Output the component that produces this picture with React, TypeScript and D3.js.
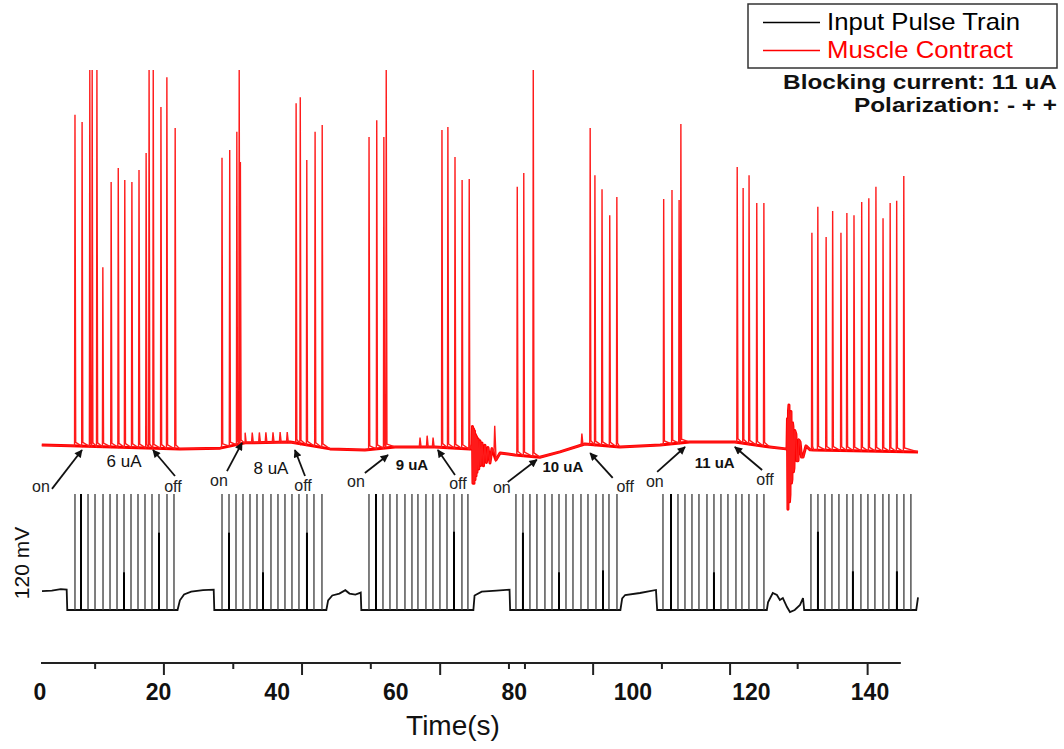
import React from "react";
import * as d3 from "d3";

// ---------- axis ----------
const X_LABELS = [0, 20, 40, 60, 80, 100, 120, 140];
const AXIS_TICKS_MAJOR = [20.9, 44.2, 67.5, 93.3, 116.4, 139.6];
const AXIS_TICKS_MINOR = [9.3, 32.6, 55.8, 79.1, 81.8, 104.9, 127.8];
const AXIS_START = 0.17;
const AXIS_END = 145.2;

// ---------- muscle contraction (red), [time s, amplitude a.u.] ----------
const RED_SPIKES: [number, number][] = [
  [5.9, 88.1], [7.1, 86.2], [8.4, 100], [8.8, 100], [9.6, 100], [10.6, 47.7], [12.0, 70.3], [13.2, 74.0],
  [14.3, 70.8], [15.5, 70.3], [16.7, 73.5], [17.9, 78.0], [18.4, 100], [19.1, 100], [20.4, 90.2], [21.4, 98.1], [22.8, 84.6],
  [30.7, 76.7], [32.0, 78.8], [33.2, 83.6], [33.6, 100], [33.8, 75.6],
  [43.2, 91.2], [43.9, 92.8], [45.0, 76.1], [46.4, 83.6], [47.6, 85.4],
  [55.5, 82.2], [56.8, 86.7], [58.0, 82.2], [58.4, 100],
  [67.8, 84.1], [68.8, 84.9], [70.0, 76.9], [71.2, 70.8], [72.4, 71.1],
  [80.5, 69.0], [81.6, 72.7], [83.2, 100],
  [92.8, 84.6], [93.6, 72.1], [94.8, 68.4], [96.1, 61.5], [97.3, 66.3],
  [105.2, 65.8], [106.6, 68.2], [107.8, 65.5], [108.1, 85.7],
  [117.6, 74.3], [118.6, 68.7], [119.6, 72.1], [120.9, 64.7], [122.1, 64.7],
  [130.2, 56.8], [131.2, 63.7], [132.6, 55.7], [133.7, 62.6], [135.1, 56.8], [136.1, 62.1], [137.3, 61.5],
  [138.6, 65.0], [139.8, 66.0], [141.0, 69.0], [142.2, 60.7], [143.4, 64.7], [144.5, 65.3], [145.7, 71.9],
];
const RED_BASELINE: [number, number][] = [
  [0.3, 0.5], [5.1, 0.3], [23.6, -0.5], [30.4, -0.3], [34.6, 1.1], [42.2, 1.3], [48.9, -0.5], [54.8, -0.8],
  [59.9, 0], [66.6, 0], [72.5, -0.5], [80.1, -2.1], [84.3, -2.7], [87.7, -1.3], [91.9, 0.8], [97.8, 0],
  [104.6, 0.5], [109.6, 1.3], [117.2, 1.3], [123.1, 0], [125.8, -0.5], [130.5, -0.8], [148.1, -1.3],
];
// offsets from the baseline
const RED_ARTIFACT_1: [number, number][] = [
  [72.86, 0], [72.95, 6], [73.03, -9], [73.12, 5.5], [73.2, -9], [73.28, 5], [73.37, -8], [73.45, 4], [73.54, -7],
  [73.62, 3.5], [73.7, -6], [73.87, 3], [74.0, -5], [74.2, 2.5], [74.35, -4], [74.55, 2], [74.8, -4],
  [75.05, 1.5], [75.3, -3], [75.56, 1], [75.9, -3], [76.23, 0.8], [76.9, -2], [77.6, 0],
];
const RED_ARTIFACT_2: [number, number][] = [
  [126.0, 0], [126.08, 8], [126.16, -16], [126.25, 10], [126.33, 11.7], [126.42, -14], [126.5, -12], [126.58, 9],
  [126.67, 10], [126.75, -9], [126.83, -8], [126.92, 7], [127.0, 6], [127.08, -6], [127.17, -5], [127.3, 5],
  [127.5, 4], [127.65, -3], [127.85, -3], [128.0, 2.5], [128.2, 2], [128.45, -2], [128.7, -2], [129.2, 1], [129.9, 0],
];
const RED_BUMPS: [number, number][] = [
  [34.6, 2.7], [35.8, 2.7], [37.0, 2.7], [38.1, 2.7], [39.3, 2.7], [40.5, 2.7], [41.7, 2.7],
  [64.1, 2.5], [65.3, 3], [66.3, 2.5], [76.7, 7], [91.4, 3],
];

// ---------- input pulse train (black), mV ----------
const PULSE_TIMES = [
  5.90, 6.92, 8.10, 9.28, 10.63, 11.81, 12.99, 14.17, 15.35, 16.53, 17.71, 18.89, 20.07, 21.42, 22.60,
  30.70, 31.88, 33.06, 34.24, 35.42, 36.60, 37.61, 38.96, 40.14, 41.32, 42.50, 43.68, 45.03, 46.21, 47.56,
  55.49, 56.67, 57.85, 59.03, 60.21, 61.56, 62.74, 63.75, 65.10, 66.28, 67.46, 68.65, 69.83, 71.17, 72.18,
  80.28, 81.46, 82.64, 83.82, 85.17, 86.36, 87.54, 88.72, 89.90, 91.25, 92.43, 93.78, 94.96, 95.97, 97.32,
  105.08, 106.43, 107.61, 108.79, 109.97, 111.15, 112.50, 113.68, 114.86, 116.04, 117.39, 118.40, 119.58, 120.93, 122.11,
  130.04, 131.22, 132.40, 133.58, 134.76, 136.11, 137.12, 138.47, 139.65, 140.83, 142.18, 143.19, 144.54, 145.72, 146.90,
];
const PULSE_PEAK = 120;
const PULSE_MARKS: [number, number][] = [
  [6.92, 120], [14.17, 39], [20.07, 80], [31.88, 80], [37.61, 39], [45.03, 80], [56.67, 120], [69.83, 81],
  [81.46, 80], [87.54, 39], [94.96, 41], [106.43, 120], [113.68, 39], [131.22, 81], [137.12, 40], [144.54, 40],
];
const BLACK_BASELINE: [number, number][] = [
  [0.34, 19.5], [2, 20], [3.5, 21.5], [4.5, 21], [4.6, 0], [23.2, 0], [23.6, 10], [24.3, 16], [25.5, 19],
  [27.5, 20.5], [29.3, 21], [29.4, 0], [48.3, 0], [48.6, 10], [49.3, 15], [50.5, 17], [51.5, 20.5], [52.2, 17],
  [53.2, 16], [54.1, 18], [54.2, 0], [73.1, 0], [73.3, 15], [74.5, 19], [77, 20], [79.2, 21], [79.3, 0],
  [97.9, 0], [98.2, 12], [98.7, 15.5], [101.2, 17.6], [103.9, 20.7], [104.1, 0], [122.6, 0], [122.8, 8],
  [123.6, 17.6], [124.3, 15.5], [124.8, 10.3], [125.3, 12.4], [126.0, 3.1], [126.5, -2.1], [127.3, 0],
  [128.2, 5.2], [128.7, 12.4], [128.9, 0], [147.8, 0], [148.1, 13],
];

// ---------- annotations (time s, red amplitude) ----------
const ARROW_LABELS = ["on", "off", "on", "off", "on", "off", "on", "off", "on", "off"];
const ARROW_TEXT_POS: [number, number][] = [
  [0.17, -11.9], [22.43, -11.9], [30.19, -10.3], [44.36, -11.7], [53.3, -10.6],
  [70.5, -11.1], [77.9, -12.2], [98.7, -11.9], [103.7, -10.6], [122.3, -10.1],
];
const ARROW_TAIL: [number, number][] = [
  [2.02, -11.1], [22.77, -7.7], [31.54, -6.4], [44.7, -7.7], [54.8, -6.9],
  [70.0, -7.4], [78.9, -9.3], [96.6, -8.2], [104.1, -6.6], [121.8, -6.1],
];
const ARROW_TIP: [number, number][] = [
  [7.08, -0.8], [19.06, -0.8], [34.07, 1.1], [43.0, -0.8], [58.7, -2.1],
  [67.1, -0.8], [83.8, -3.4], [92.8, -1.6], [108.8, 0], [117.2, 0],
];
const CURRENT_LABELS = ["6 uA", "8 uA", "9 uA", "10 uA", "11 uA"];
const CURRENT_BOLD = [false, false, true, true, true];
const CURRENT_POS: [number, number][] = [[14.17, -5.3], [38.96, -7.2], [62.74, -6.1], [88.2, -6.6], [113.8, -5.6]];

const LEGEND = [
  { label: "Input Pulse Train", color: "#000000", width: 193 },
  { label: "Muscle Contract", color: "#ff0000", width: 186 },
];
const NOTES = [
  { text: "Blocking current: 11 uA", width: 274 },
  { text: "Polarization: - + +", width: 203 },
];

const FONT = "'Liberation Sans', Arial, Helvetica, sans-serif";

export default function App() {
  const W = 1064;
  const H = 749;
  const x = d3.scaleLinear().domain([0, 140]).range([40, 870]);
  const yRed = d3.scaleLinear().domain([0, 100]).range([447, 70]);
  const yBlack = d3.scaleLinear().domain([0, 120]).range([610, 494]);

  const base = d3
    .scaleLinear()
    .domain(RED_BASELINE.map((d) => d[0]))
    .range(RED_BASELINE.map((d) => d[1]))
    .clamp(true);

  const basePts: [number, number][] = [];
  RED_BASELINE.forEach(([t, v]) => basePts.push([t, v]));
  [...RED_ARTIFACT_1, ...RED_ARTIFACT_2].forEach(([t, o]) => basePts.push([t, base(t) + o]));
  basePts.sort((a, b) => a[0] - b[0]);

  const fullPts: [number, number][] = [...basePts];
  RED_BUMPS.forEach(([t, o]) => {
    fullPts.push([t - 0.12, base(t - 0.12)]);
    fullPts.push([t, base(t) + o]);
    fullPts.push([t + 0.18, base(t + 0.18)]);
  });
  RED_SPIKES.forEach(([t, v]) => {
    fullPts.push([t - 0.07, base(t - 0.07)]);
    fullPts.push([t, v]);
    fullPts.push([t + 0.12, base(t + 0.12) + 1]);
  });
  fullPts.sort((a, b) => a[0] - b[0]);

  const redLine = d3
    .line<[number, number]>()
    .x((d) => x(d[0]))
    .y((d) => yRed(d[1]));
  const blackLine = d3
    .line<[number, number]>()
    .x((d) => x(d[0]))
    .y((d) => yBlack(d[1]));

  const axisY = 663;

  return (
    <svg
      width={W}
      height={H}
      style={{ position: "absolute", left: 0, top: 0, background: "#fff" }}
      fontFamily={FONT}
    >
      <defs>
        <marker id="ah" viewBox="0 0 10 10" refX="9" refY="5" markerWidth="9" markerHeight="8" orient="auto" markerUnits="userSpaceOnUse">
          <path d="M0,0 L10,5 L0,10 z" fill="#111" />
        </marker>
      </defs>
      <rect x={0} y={0} width={W} height={H} fill="#fff" />

      {/* red muscle trace */}
      <path d={redLine(basePts) || ""} fill="none" stroke="#ff0000" strokeWidth={3} strokeLinejoin="round" />
      <path d={redLine(fullPts) || ""} fill="none" stroke="#ff1a1a" strokeWidth={1.4} strokeLinejoin="miter" />

      {/* black pulse train */}
      <path d={blackLine(BLACK_BASELINE) || ""} fill="none" stroke="#111" strokeWidth={1.8} />
      {PULSE_TIMES.map((t, i) => (
        <line key={"p" + i} x1={x(t)} x2={x(t)} y1={yBlack(0)} y2={yBlack(PULSE_PEAK)} stroke="#3a3a3a" strokeWidth={1.3} />
      ))}
      {PULSE_MARKS.map(([t, v], i) => (
        <line key={"m" + i} x1={x(t)} x2={x(t)} y1={yBlack(0)} y2={yBlack(v)} stroke="#000" strokeWidth={2} />
      ))}

      {/* annotations */}
      {ARROW_LABELS.map((lab, i) => (
        <g key={"a" + i}>
          <line
            x1={x(ARROW_TAIL[i][0])}
            y1={yRed(ARROW_TAIL[i][1])}
            x2={x(ARROW_TIP[i][0])}
            y2={yRed(ARROW_TIP[i][1])}
            stroke="#111"
            strokeWidth={1.8}
            markerEnd="url(#ah)"
          />
          <text x={x(ARROW_TEXT_POS[i][0])} y={yRed(ARROW_TEXT_POS[i][1])} textAnchor="middle" fontSize={16} fill="#222">
            {lab}
          </text>
        </g>
      ))}
      {CURRENT_LABELS.map((lab, i) => (
        <text
          key={"c" + i}
          x={x(CURRENT_POS[i][0])}
          y={yRed(CURRENT_POS[i][1])}
          textAnchor="middle"
          fontSize={CURRENT_BOLD[i] ? 15 : 17}
          fontWeight={CURRENT_BOLD[i] ? "bold" : "normal"}
          fill="#111"
        >
          {lab}
        </text>
      ))}

      {/* y label */}
      <text transform="translate(29,563) rotate(-90)" textAnchor="middle" fontSize={21} fill="#111">
        120 mV
      </text>

      {/* x axis */}
      <line x1={x(AXIS_START)} x2={x(AXIS_END)} y1={axisY} y2={axisY} stroke="#222" strokeWidth={2} />
      {AXIS_TICKS_MAJOR.map((t, i) => (
        <line key={"M" + i} x1={x(t)} x2={x(t)} y1={axisY} y2={axisY + 12} stroke="#222" strokeWidth={2} />
      ))}
      {AXIS_TICKS_MINOR.map((t, i) => (
        <line key={"n" + i} x1={x(t)} x2={x(t)} y1={axisY} y2={axisY + 6} stroke="#222" strokeWidth={2} />
      ))}
      {X_LABELS.map((t) => (
        <text key={"l" + t} x={x(t)} y={700} textAnchor="middle" fontSize={23} fontWeight="bold" fill="#111">
          {t}
        </text>
      ))}
      <text x={453} y={735} textAnchor="middle" fontSize={28} fill="#111">
        Time(s)
      </text>

      {/* legend */}
      <rect x={748} y={4} width={309} height={64} fill="#fff" stroke="#333" strokeWidth={1.5} />
      {LEGEND.map((d, i) => (
        <g key={"lg" + i}>
          <line x1={763} x2={820} y1={22.5 + i * 28} y2={22.5 + i * 28} stroke={d.color} strokeWidth={1.3} />
          <text x={827} y={30 + i * 28} fontSize={24} fill={d.color} textLength={d.width} lengthAdjust="spacingAndGlyphs">
            {d.label}
          </text>
        </g>
      ))}
      {NOTES.map((s, i) => (
        <text
          key={"nt" + i}
          x={1057 - s.width}
          y={89 + i * 23}
          fontSize={21}
          fontWeight="bold"
          fill="#111"
          textLength={s.width}
          lengthAdjust="spacingAndGlyphs"
        >
          {s.text}
        </text>
      ))}
    </svg>
  );
}
